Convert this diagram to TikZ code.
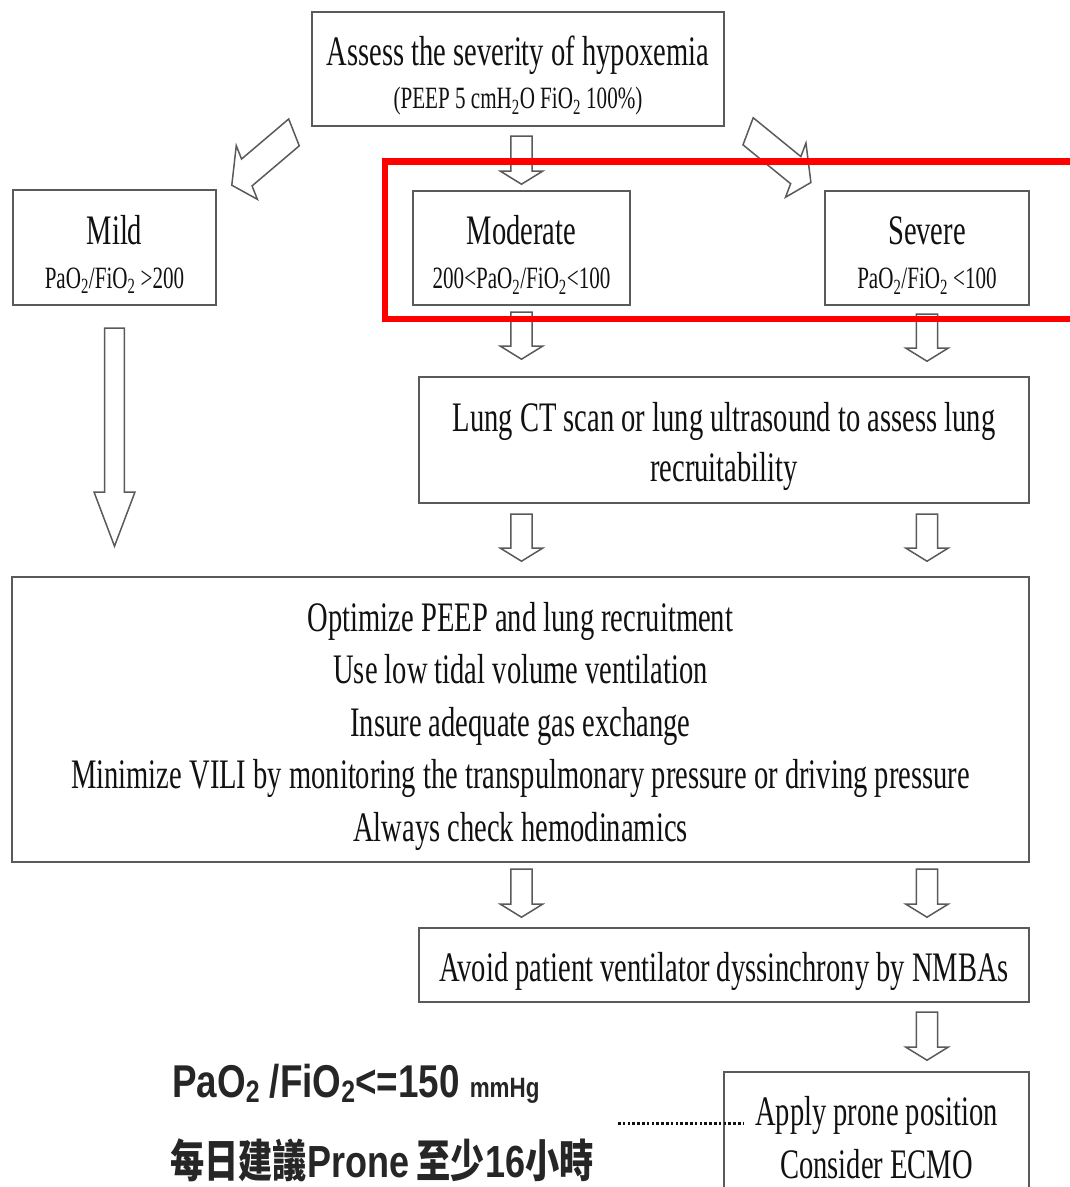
\documentclass[tikz,border=0pt]{standalone}
\usepackage{fontspec}
\setmainfont{Liberation Serif}[FakeStretch=0.68]
\newfontfamily\sansb{Liberation Sans}[FakeStretch=0.8]
\newfontfamily\cjk{Noto Sans CJK TC}[FakeStretch=0.76]
\usetikzlibrary{calc}
\definecolor{frame}{HTML}{5A5A5A}
\definecolor{ink}{HTML}{111111}
\definecolor{inkb}{HTML}{262626}
\definecolor{redbox}{HTML}{FF0000}
\newcommand\tstrut{\rule{0pt}{43pt}}
\newcommand\sanssub[1]{\raisebox{-5pt}{\fontsize{31}{31}\selectfont #1}}
% block arrow: tip, angle, length, shaft half width, head half width, head length
\newcommand\blk[6]{%
  \begin{scope}[shift={#1}, xscale=0.68, rotate=#2]
    \draw[arrowline] (0,0) -- (-#6,#5) -- (-#6,#4) -- (-#3,#4) -- (-#3,-#4) -- (-#6,-#4) -- (-#6,-#5) -- cycle;
  \end{scope}}
\tikzset{
  box/.style={draw=frame, line width=1.6pt, rectangle, inner sep=0pt, align=center, text=ink},
  arrowline/.style={draw=frame, line width=1.5pt, line join=miter, fill=white},
  hilite/.style={draw=redbox, line width=6.5pt, rectangle, inner sep=0pt},
  sidetext/.style={anchor=base west, inner sep=0pt, text=inkb},
  dots/.style={draw=ink, line width=3pt, dash pattern=on 2.6pt off 2.2pt}
}
\begin{document}
\begin{tikzpicture}[x=1pt, y=1pt]
\useasboundingbox (0,0) rectangle (1070,-1187);
\clip (0,0) rectangle (1070,-1187);
\fill[white] (0,0) rectangle (1070,-1187);

% boxes
\node[box, minimum width=412pt, minimum height=114pt, font=\fontsize{42}{43}\selectfont] (top) at (518,-69)
  {\tstrut Assess the severity of hypoxemia\\{\fontsize{31}{43}\selectfont (PEEP 5 cmH\textsubscript{2}O FiO\textsubscript{2} 100\%)}};
\node[box, minimum width=203pt, minimum height=115pt, font=\fontsize{42}{44}\selectfont] (mild) at (114.5,-247.5)
  {\tstrut Mild\\{\fontsize{31}{44}\selectfont PaO\textsubscript{2}/FiO\textsubscript{2} >200}};
\node[box, minimum width=217pt, minimum height=114pt, font=\fontsize{42}{44}\selectfont] (mod) at (521.5,-248)
  {\tstrut Moderate\\{\fontsize{31}{44}\selectfont 200<PaO\textsubscript{2}/FiO\textsubscript{2}<100}};
\node[box, minimum width=204pt, minimum height=114pt, font=\fontsize{42}{44}\selectfont] (sev) at (927,-248)
  {\tstrut Severe\\{\fontsize{31}{44}\selectfont PaO\textsubscript{2}/FiO\textsubscript{2} <100}};
\node[box, minimum width=610pt, minimum height=126pt, font=\fontsize{42}{50}\selectfont] (ct) at (724,-440)
  {\tstrut Lung CT scan or lung ultrasound to assess lung\\recruitability};
\node[box, minimum width=1017pt, minimum height=285pt, font=\fontsize{42}{52.5}\selectfont] (big) at (520.5,-719.5)
  {\tstrut Optimize PEEP and lung recruitment\\Use low tidal volume ventilation\\Insure adequate gas exchange\\Minimize VILI by monitoring the transpulmonary pressure or driving pressure\\Always check hemodinamics};
\node[box, minimum width=610pt, minimum height=74pt, font=\fontsize{42}{50}\selectfont] (nmba) at (724,-965)
  {\tstrut Avoid patient ventilator dyssinchrony by NMBAs};
\node[box, minimum width=305pt, minimum height=118pt, font=\fontsize{42}{53}\selectfont] (prone) at (876.5,-1131)
  {\tstrut Apply prone position\\Consider ECMO};

% block arrows
\blk{($(mod.north)+(0,6)$)}{-90}{48}{15.5}{31}{13}
\blk{($(mild.north east)+(15,4)$)}{210}{105.6}{15.5}{31}{25.5}
\blk{($(sev.north west)+(-13.3,7.7)$)}{-29}{105.6}{15.5}{31}{25.5}
\blk{($(mod.south |- ct.north)+(0,17)$)}{-90}{47}{15.5}{31}{13}
\blk{($(sev.south |- ct.north)+(0,15)$)}{-90}{47}{15.5}{31}{13}
\blk{($(mod.south |- big.north)+(0,15)$)}{-90}{47}{15.5}{31}{13}
\blk{($(sev.south |- big.north)+(0,15)$)}{-90}{47}{15.5}{31}{13}
\blk{($(mod.south |- nmba.north)+(0,10)$)}{-90}{48}{15.5}{31}{13}
\blk{($(sev.south |- nmba.north)+(0,10)$)}{-90}{48}{15.5}{31}{13}
\blk{($(sev.south |- prone.north)+(0,11)$)}{-90}{48}{15.5}{31}{13}
\blk{($(mild.south |- big.north)+(0,30)$)}{-90}{218}{14.7}{30}{54}

% side notes
\node[sidetext, font=\sansb\bfseries\fontsize{46}{46}\selectfont] (pf) at (172,-1097)
  {PaO\sanssub{2} /FiO\sanssub{2}<=150 {\fontsize{28}{28}\selectfont mmHg}};
\node[sidetext, font=\bfseries\fontsize{45}{45}\selectfont] (cn) at (170,-1177)
  {{\cjk 每日建議}{\sansb Prone} {\cjk 至少}{\sansb 16}{\cjk 小時}};
\coordinate (dotL) at (618,-1123);
\coordinate (dotR) at ($(prone.west |- dotL)+(20,0)$);
\draw[dots] (dotL) -- (dotR);

% red highlight
\node[hilite, minimum width=705pt, minimum height=157.5pt] (hl) at (737.5,-240.25) {};
\end{tikzpicture}
\end{document}
